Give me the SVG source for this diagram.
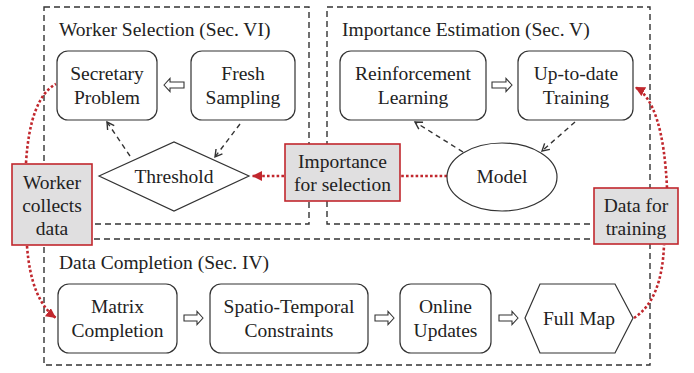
<svg xmlns="http://www.w3.org/2000/svg" width="694" height="373" viewBox="0 0 694 373">
<style>
text{font-family:"Liberation Serif","Times New Roman",serif;font-size:19.5px;fill:#222;text-anchor:middle}
.title{text-anchor:start}
.sec{fill:none;stroke:#333;stroke-width:1.4;stroke-dasharray:6 4}
.node{fill:#fff;stroke:#333;stroke-width:1.2}
.lbl{fill:#e0dfe0;stroke:#c1272d;stroke-width:1.6}
.dash{fill:none;stroke:#333;stroke-width:1.4;stroke-dasharray:5 4}
.red{fill:none;stroke:#c1272d;stroke-width:2.6;stroke-dasharray:2.6 2.2}
.hollow{fill:#fff;stroke:#333;stroke-width:1.1}
</style>
<defs>
<marker id="open" markerWidth="10" markerHeight="10" refX="8" refY="5" orient="auto" markerUnits="userSpaceOnUse">
<path d="M1,1 L8,5 L1,9" fill="none" stroke="#333" stroke-width="1.4"/>
</marker>
<marker id="redhead" markerWidth="12" markerHeight="12" refX="10" refY="5" orient="auto" markerUnits="userSpaceOnUse">
<path d="M0,0 L10,5 L0,10 Z" fill="#c1272d"/>
</marker>
</defs>

<g id="sections">
<rect class="sec" x="44" y="7" width="265" height="217"/>
<rect class="sec" x="327" y="7" width="323" height="217"/>
<rect class="sec" x="44" y="239" width="606" height="126"/>
<text class="title" x="59" y="36">Worker Selection (Sec. VI)</text>
<text class="title" x="342" y="36">Importance Estimation (Sec. V)</text>
<text class="title" x="59" y="269">Data Completion (Sec. IV)</text>
</g>

<g id="connectors">
<polygon class="hollow" points="164,85 170,78.5 170,82 184,82 184,88 170,88 170,91.5"/>
<polygon class="hollow" points="512,85 506,78.5 506,82 492,82 492,88 506,88 506,91.5"/>
<polygon class="hollow" points="203,318 197,311.5 197,315 184,315 184,321 197,321 197,324.5"/>
<polygon class="hollow" points="394,318 388,311.5 388,315 375,315 375,321 388,321 388,324.5"/>
<polygon class="hollow" points="518,318 512,311.5 512,315 499,315 499,321 512,321 512,324.5"/>
<path class="dash" d="M130,156 L107,122" marker-end="url(#open)"/>
<path class="dash" d="M240,124 L215,157" marker-end="url(#open)"/>
<path class="dash" d="M463,152 L415,122" marker-end="url(#open)"/>
<path class="dash" d="M575,122 L542,151" marker-end="url(#open)"/>
<path class="red" d="M284,176 L252,176" marker-end="url(#redhead)"/>
<path class="red" d="M447,176 L401,176"/>
<path class="red" d="M26,163 Q30,98 56,84"/>
<path class="red" d="M27,246 Q31,300 56,318" marker-end="url(#redhead)"/>
<path class="red" d="M667,188 Q663,102 635,87" marker-end="url(#redhead)"/>
<path class="red" d="M634,318 Q662,300 664,245"/>
</g>

<g id="secretary">
<rect class="node" x="57" y="51" width="100" height="69" rx="11"/>
<text x="107" y="80">Secretary</text>
<text x="107" y="104">Problem</text>
</g>
<g id="fresh">
<rect class="node" x="191" y="51" width="104" height="69" rx="11"/>
<text x="243" y="80">Fresh</text>
<text x="243" y="104">Sampling</text>
</g>
<g id="threshold">
<polygon class="node" points="99,176 174,142 249,176 174,211"/>
<text x="174" y="183">Threshold</text>
</g>
<g id="reinforcement">
<rect class="node" x="340" y="51" width="146" height="69" rx="11"/>
<text x="413" y="80">Reinforcement</text>
<text x="413" y="104">Learning</text>
</g>
<g id="uptodate">
<rect class="node" x="518" y="51" width="115" height="69" rx="11"/>
<text x="576" y="80">Up-to-date</text>
<text x="576" y="104">Training</text>
</g>
<g id="model">
<ellipse class="node" cx="502" cy="177" rx="55" ry="34"/>
<text x="502" y="183">Model</text>
</g>
<g id="importance">
<rect class="lbl" x="285" y="144" width="115" height="57"/>
<text x="342.5" y="168">Importance</text>
<text x="342.5" y="191">for selection</text>
</g>
<g id="worker">
<rect class="lbl" x="12" y="164" width="80" height="81"/>
<text x="52" y="189">Worker</text>
<text x="52" y="212">collects</text>
<text x="52" y="235">data</text>
</g>
<g id="datatraining">
<rect class="lbl" x="594" y="188" width="84" height="56"/>
<text x="636" y="212">Data for</text>
<text x="636" y="235">training</text>
</g>
<g id="matrix">
<rect class="node" x="58" y="284" width="119" height="69" rx="11"/>
<text x="117.5" y="313">Matrix</text>
<text x="117.5" y="337">Completion</text>
</g>
<g id="spatio">
<rect class="node" x="210" y="284" width="158" height="69" rx="11"/>
<text x="289" y="313">Spatio-Temporal</text>
<text x="289" y="337">Constraints</text>
</g>
<g id="online">
<rect class="node" x="400" y="284" width="91" height="69" rx="11"/>
<text x="445.5" y="313">Online</text>
<text x="445.5" y="337">Updates</text>
</g>
<g id="fullmap">
<polygon class="node" points="525,318 540,284 615,284 633,318 615,353 540,353"/>
<text x="579" y="325">Full Map</text>
</g>
</svg>
